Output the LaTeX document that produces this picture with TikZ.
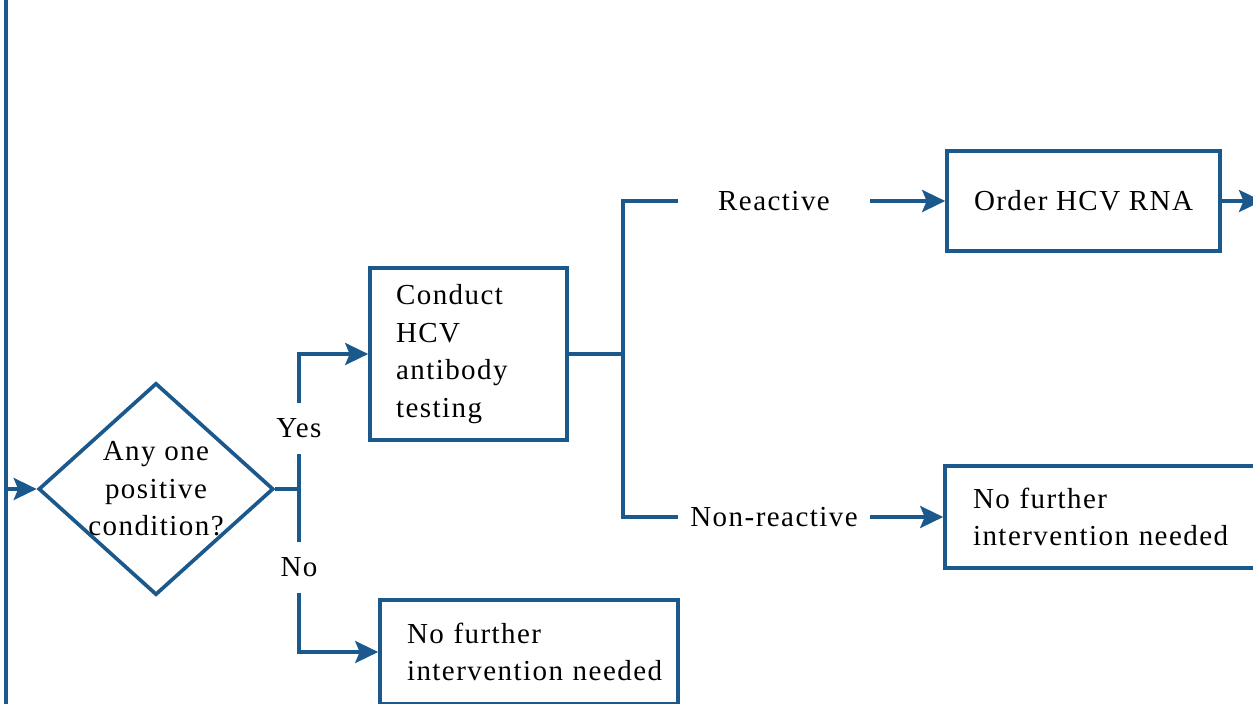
\documentclass[tikz,border=0pt]{standalone}
\usepackage{fontspec}
\setmainfont{Liberation Serif}[LetterSpace=5]
\usetikzlibrary{arrows.meta,shapes.geometric}
\definecolor{fc}{HTML}{1B588C}
\begin{document}
\begin{tikzpicture}[x=0.02cm,y=-0.02cm,
  every node/.style={font=\fontsize{16.5}{21.3}\selectfont},
  ln/.style={draw=fc,line width=2.1pt},
  ar/.style={ln,-{Stealth[length=0.46cm,width=0.44cm,inset=0.09cm]}},
  box/.style={draw=fc,line width=2.1pt,rectangle,inner ysep=0pt},
  lbl/.style={fill=white,inner xsep=3pt,inner ysep=0.32cm},
  gap/.style={inner sep=0pt,minimum width=3.84cm,minimum height=0.6cm}
]
\useasboundingbox (0,0) rectangle (1253,703);
\clip (0,0) rectangle (1253,703);

% left trunk
\coordinate (top) at (6,-10);
\coordinate (bot) at (6,715);
\coordinate (j0) at (6,489);
\draw[ln] (top) -- (bot);

% decision
\node[diamond,draw=fc,line width=2.1pt,minimum width=4.7cm,minimum height=4.24cm,inner sep=0pt,
  label={[align=center,font=\fontsize{16.5}{21.3}\selectfont]center:Any one\\positive\\condition?}] (d) at (156,489) {};
\draw[ar] (j0) -- (d.west);

% boxes
\node[box,align=left,text width=2.9cm,inner xsep=0.52cm,minimum height=3.44cm] (cond) at (468.5,354)
  {Conduct\\HCV\\antibody\\testing};
\node[box,align=left,text width=4.88cm,inner xsep=0.54cm,minimum height=2.08cm] (nfi2) at (529,652)
  {\mbox{No further}\\\mbox{intervention needed}};
\node[box,align=center,minimum width=5.46cm,minimum height=2cm] (ohr) at (1083.5,201) {Order HCV RNA};
\node[box,align=left,text width=5.28cm,inner xsep=0.56cm,minimum height=2.04cm] (nfi1) at (1105,517)
  {\mbox{No further}\\\mbox{intervention needed}};

% Yes / No branch
\coordinate (j1) at (299,489);
\draw[ln] (d.east) -- (j1);
\draw[ar] (j1) |- node[lbl,pos=0.225] {Yes} (cond.west);
\draw[ar] (j1) |- node[lbl,pos=0.24] {No} (nfi2.west);

% test result branch
\coordinate (j2) at (623,354);
\draw[ln] (cond.east) -- (j2);
\node[gap] (re) at (774,201) {Reactive};
\node[gap] (nr) at (774,517) {Non-reactive};
\draw[ln] (j2) |- (re.west);
\draw[ln] (j2) |- (nr.west);
\draw[ar] (re.east) -- (ohr.west);
\draw[ar] (nr.east) -- (nfi1.west);

% continuation off the right edge
\coordinate (out) at (1262,201);
\draw[ar] (ohr.east) -- (out);
\end{tikzpicture}
\end{document}
